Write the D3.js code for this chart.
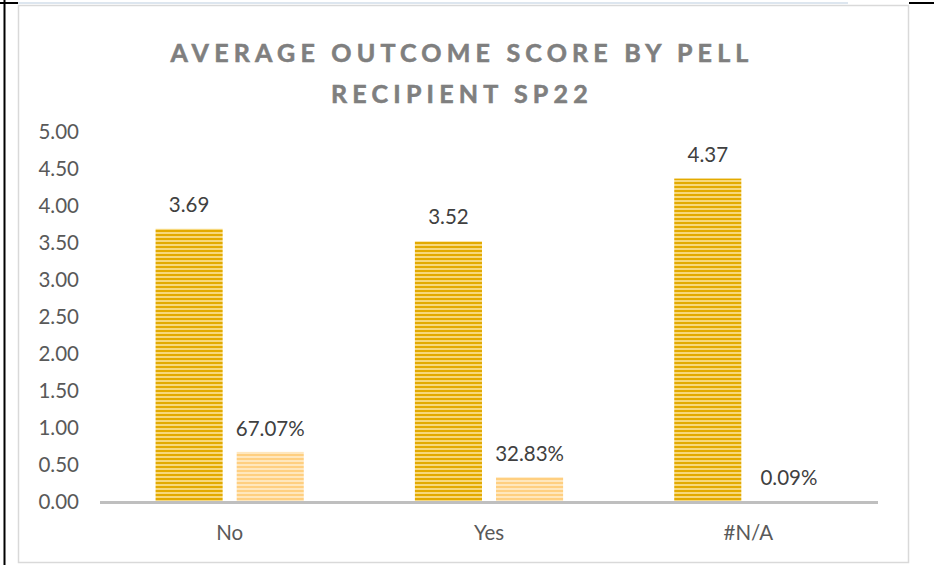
<!DOCTYPE html>
<html>
<head>
<meta charset="utf-8">
<script src="https://cdn.jsdelivr.net/npm/d3@7"></script>
<style>
  html, body { margin: 0; padding: 0; background: #fff; }
  svg { display: block; font-family: Lato, "Open Sans", sans-serif; }
</style>
</head>
<body>
<div id="chart"></div>
<script>
// chart data
const categories = ["No", "Yes", "#N/A"];
const avgScore = [3.69, 3.52, 4.37];
const pctShare = [0.6707, 0.3283, 0.0009];
const yTicks = [0, 0.5, 1, 1.5, 2, 2.5, 3, 3.5, 4, 4.5, 5];
const titleLines = ["AVERAGE OUTCOME SCORE BY PELL", "RECIPIENT SP22"];

const width = 934, height = 565;
const margin = { top: 132, bottom: 63, left: 100, right: 56 };

const svg = d3.select("#chart").append("svg")
  .attr("width", width)
  .attr("height", height);

// page / table borders around the chart
svg.append("line").attr("x1", 18).attr("x2", 848).attr("y1", 3).attr("y2", 3)
  .attr("stroke", "#dde6ef").attr("stroke-width", 2);
svg.append("line").attr("x1", 0).attr("x2", 18).attr("y1", 3).attr("y2", 3)
  .attr("stroke", "#000").attr("stroke-width", 2);
svg.append("line").attr("x1", 909).attr("x2", 934).attr("y1", 3).attr("y2", 3)
  .attr("stroke", "#000").attr("stroke-width", 2);
svg.append("line").attr("x1", 4.5).attr("x2", 4.5).attr("y1", 0).attr("y2", height)
  .attr("stroke", "#000").attr("stroke-width", 2);
svg.append("rect")
  .attr("x", 18.5).attr("y", 5.5).attr("width", 890).attr("height", 557)
  .attr("fill", "#fff").attr("stroke", "#d9d9d9").attr("stroke-width", 1.5);

// stripe patterns
const defs = svg.append("defs");
function stripes(id, bg, fg) {
  const p = defs.append("pattern").attr("id", id)
    .attr("patternUnits", "userSpaceOnUse").attr("width", 8).attr("height", 4);
  p.append("rect").attr("width", 8).attr("height", 4).attr("fill", bg);
  p.append("rect").attr("y", 2).attr("width", 8).attr("height", 2).attr("fill", fg);
}
stripes("goldStripe", "#f7d87c", "#e3aa00");
stripes("peachStripe", "#ffe7bd", "#ffcf80");

// scales
const x = d3.scaleBand().domain(categories)
  .range([margin.left, width - margin.right]).padding(0);
const series = ["score", "pct"];
const xs = d3.scaleBand().domain(series)
  .range([0, x.bandwidth()]).paddingInner(0.173).paddingOuter(0.685);
const y = d3.scaleLinear().domain([0, 5]).range([height - margin.bottom - 0.5, margin.top]);

// title
svg.append("g").selectAll("text").data(titleLines).join("text")
  .attr("x", 462)
  .attr("y", (d, i) => 62 + i * 41)
  .attr("text-anchor", "middle")
  .attr("font-size", 25)
  .attr("font-weight", 700)
  .attr("letter-spacing", 5.2)
  .attr("fill", "#7f7f7f")
  .attr("stroke", "#7f7f7f")
  .attr("stroke-width", 0.6)
  .text(d => d);

// y axis labels
const yAxis = d3.axisLeft(y).tickValues(yTicks).tickFormat(d3.format(".2f")).tickSize(0).tickPadding(0);
svg.append("g")
  .attr("transform", "translate(79,0)")
  .call(yAxis)
  .call(g => g.select(".domain").remove())
  .call(g => g.selectAll("text")
    .attr("font-family", "Lato, 'Open Sans', sans-serif")
    .attr("font-size", 20.5)
    .attr("fill", "#595959"));

// bars
const rows = categories.map((c, i) => ({ cat: c, score: avgScore[i], pct: pctShare[i] }));
const groups = svg.append("g").selectAll("g").data(rows).join("g")
  .attr("transform", d => `translate(${x(d.cat)},0)`);

groups.append("rect")
  .attr("x", xs("score")).attr("width", xs.bandwidth())
  .attr("y", d => y(d.score)).attr("height", d => y(0) - y(d.score))
  .attr("fill", "url(#goldStripe)");
groups.append("rect")
  .attr("x", xs("pct")).attr("width", xs.bandwidth())
  .attr("y", d => y(d.pct)).attr("height", d => y(0) - y(d.pct))
  .attr("fill", "url(#peachStripe)");

// data labels
groups.append("text")
  .attr("x", xs("score") + xs.bandwidth() / 2)
  .attr("y", d => y(d.score) - 17)
  .attr("text-anchor", "middle")
  .attr("font-size", 20.5).attr("fill", "#404040")
  .text(d => d.score.toFixed(2));
groups.append("text")
  .attr("x", xs("pct") + xs.bandwidth() / 2)
  .attr("y", d => y(d.pct) - 16)
  .attr("text-anchor", "middle")
  .attr("font-size", 20.5).attr("fill", "#404040")
  .text(d => d3.format(".2%")(d.pct));

// x axis line and category labels
svg.append("line")
  .attr("x1", margin.left).attr("x2", width - margin.right)
  .attr("y1", y(0) + 1).attr("y2", y(0) + 1)
  .attr("stroke", "#bfbfbf").attr("stroke-width", 3);
svg.append("g").selectAll("text").data(categories).join("text")
  .attr("x", d => x(d) + x.bandwidth() / 2)
  .attr("y", 540)
  .attr("text-anchor", "middle")
  .attr("font-size", 20.5).attr("fill", "#595959")
  .text(d => d);
</script>
</body>
</html>
